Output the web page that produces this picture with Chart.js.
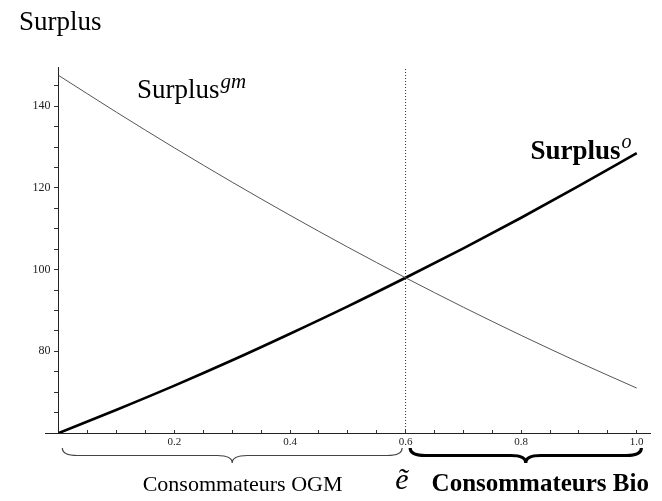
<!DOCTYPE html>
<html>
<head>
<meta charset="utf-8">
<script src="https://cdn.jsdelivr.net/npm/chart.js@4"></script>
<style>
  body { margin: 0; background: #fff; }
</style>
</head>
<body>
<canvas id="surplus-chart" width="662" height="501"></canvas>
<script>
// share of consumers (x) and the two surplus curves
const shares = [0, 0.1, 0.2, 0.3, 0.4, 0.5, 0.6, 0.7, 0.8, 0.9, 1.0];
const surplusGM = [147.5, 138.5, 129.8, 121.4, 113.3, 105.5, 98.0, 90.8, 83.9, 77.3, 71.0];
const surplusO = [60.0, 65.7, 71.6, 77.8, 84.3, 91.0, 98.0, 105.2, 112.7, 120.5, 128.5];
const eTilde = 0.6;
const xTickLabels = ['0.2', '0.4', '0.6', '0.8', '1.0'];
const yTickLabels = ['80', '100', '120', '140'];

const serif = '"Liberation Serif", "Times New Roman", serif';

function toPoints(xs, ys) {
  return xs.map((v, i) => ({ x: v, y: ys[i] }));
}

// horizontal curly brace, opening up, tip pointing down
function brace(ctx, x1, x2, y0, h, width, color) {
  const r = h / 2;
  const xm = (x1 + x2) / 2;
  ctx.beginPath();
  ctx.moveTo(x1, y0);
  ctx.quadraticCurveTo(x1, y0 + r, x1 + 2 * r, y0 + r);
  ctx.lineTo(xm - 2 * r, y0 + r);
  ctx.quadraticCurveTo(xm, y0 + r, xm, y0 + h);
  ctx.quadraticCurveTo(xm, y0 + r, xm + 2 * r, y0 + r);
  ctx.lineTo(x2 - 2 * r, y0 + r);
  ctx.quadraticCurveTo(x2, y0 + r, x2, y0);
  ctx.lineWidth = width;
  ctx.strokeStyle = color;
  ctx.stroke();
}

const labels = {
  id: 'labels',
  afterDraw(chart) {
    const ctx = chart.ctx;
    const xs = chart.scales.x, ys = chart.scales.y;
    ctx.save();
    ctx.fillStyle = '#000';
    ctx.textAlign = 'left';
    ctx.textBaseline = 'alphabetic';

    ctx.font = '27px ' + serif;
    ctx.fillText('Surplus', 19, 30);

    // Surplus^gm
    let px = xs.getPixelForValue(0.135), py = ys.getPixelForValue(142.1);
    ctx.font = '27px ' + serif;
    ctx.fillText('Surplus', px, py);
    let w = ctx.measureText('Surplus').width;
    ctx.font = 'italic 21px ' + serif;
    ctx.fillText('gm', px + w + 1, py - 10);

    // Surplus^o
    px = xs.getPixelForValue(0.816); py = ys.getPixelForValue(127);
    ctx.font = 'bold 27px ' + serif;
    ctx.fillText('Surplus', px, py);
    w = ctx.measureText('Surplus').width;
    ctx.font = 'italic 20px ' + serif;
    ctx.fillText('o', px + w + 1, py - 11);

    // braces under the axis
    brace(ctx, xs.getPixelForValue(0.006), xs.getPixelForValue(0.594), 448, 15, 1.2, '#444');
    brace(ctx, xs.getPixelForValue(0.608), xs.getPixelForValue(1.008), 448, 15, 3.2, '#000');

    ctx.font = '22px ' + serif;
    ctx.fillText('Consommateurs OGM', xs.getPixelForValue(0.145), 491);
    ctx.font = 'italic 30px ' + serif;
    ctx.fillText('\u1EBD', xs.getPixelForValue(0.582), 489);
    ctx.font = 'bold 25px ' + serif;
    ctx.fillText('Consommateurs Bio', xs.getPixelForValue(0.645), 491);
    ctx.restore();
  }
};

new Chart(document.getElementById('surplus-chart'), {
  type: 'line',
  data: {
    datasets: [
      {
        data: [{ x: eTilde, y: 60 }, { x: eTilde, y: 149.6 }],
        borderColor: '#333',
        borderWidth: 1,
        borderDash: [1, 2]
      },
      {
        data: toPoints(shares, surplusGM),
        borderColor: '#555',
        borderWidth: 1,
        cubicInterpolationMode: 'monotone'
      },
      {
        data: toPoints(shares, surplusO),
        borderColor: '#000',
        borderWidth: 2.6,
        cubicInterpolationMode: 'monotone'
      }
    ]
  },
  options: {
    responsive: false,
    animation: false,
    layout: { padding: { left: 45, right: 12, top: 67, bottom: 68 } },
    elements: { point: { radius: 0 } },
    plugins: { legend: { display: false }, tooltip: { enabled: false } },
    scales: {
      x: {
        type: 'linear',
        min: -0.024,
        max: 1.023,
        position: { y: 60 },
        border: { display: true, color: '#222', width: 1 },
        grid: { drawOnChartArea: false, drawTicks: true, tickLength: -4, tickColor: '#333' },
        ticks: {
          stepSize: 0.05,
          includeBounds: false,
          autoSkip: false,
          maxRotation: 0,
          padding: 7,
          color: '#222',
          font: { family: serif, size: 11 },
          callback: v => {
            const s = v.toFixed(1);
            return (Math.abs(v * 10 - Math.round(v * 10)) < 1e-6 && xTickLabels.includes(s)) ? s : '';
          }
        }
      },
      y: {
        type: 'linear',
        min: 60,
        max: 149.6,
        position: { x: 0 },
        border: { display: true, color: '#222', width: 1 },
        grid: { drawOnChartArea: false, drawTicks: true, tickLength: 4, tickColor: '#333' },
        ticks: {
          stepSize: 5,
          includeBounds: false,
          autoSkip: false,
          color: '#222',
          font: { family: serif, size: 12 },
          // the label sits on the axis line, so pad it with trailing spaces
          callback: v => {
            const s = String(Math.round(v));
            return Math.abs(v - Math.round(v)) < 1e-6 && yTickLabels.includes(s) ? s + '\u2002\u2009' : '';
          }
        }
      }
    }
  },
  plugins: [labels]
});
</script>
</body>
</html>
